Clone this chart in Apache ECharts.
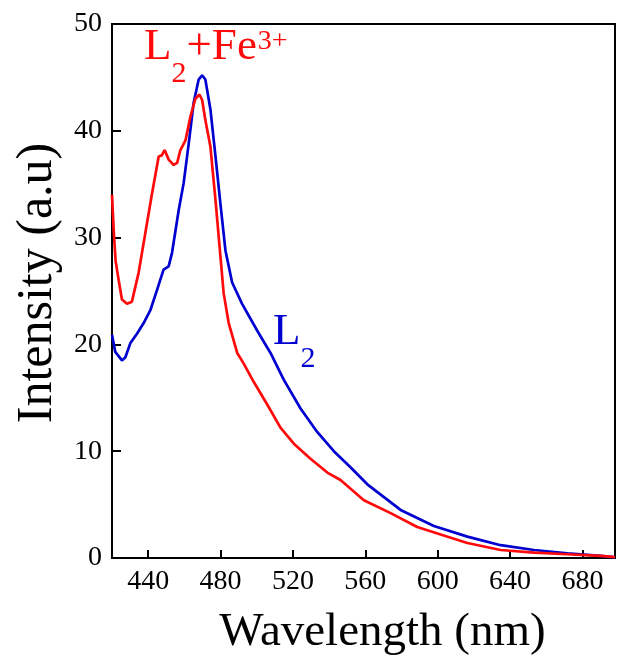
<!DOCTYPE html>
<html>
<head>
<meta charset="utf-8">
<script src="https://cdn.jsdelivr.net/npm/echarts@6/dist/echarts.min.js"></script>
<style>
html,body{margin:0;padding:0;background:#fff;}
#c{width:617px;height:662px;}
</style>
</head>
<body>
<div id="c"></div>
<script>
// L2 + Fe3+ (red)
const redWavelength = [420,421,422,423.7,425.5,428.3,431,434.7,438.4,442.1,445.8,447.5,449.1,451.3,454.1,456,457.8,460.6,463.3,466.1,468.3,469.8,471.6,474.4,477.2,479.9,481.7,484.5,489.2,492.8,498.3,505.7,513.1,520.5,529.7,539,546.3,559.2,574,588.7,601.6,616.4,634.8,653.3,671.7,690.2,698];
const redIntensity  = [34.0,30.5,27.8,26.0,24.2,23.8,24.0,26.7,30.4,34.1,37.6,37.7,38.2,37.3,36.8,37.0,38.2,39.1,41.3,43.0,43.4,42.9,41.0,38.5,33.5,28.3,24.8,22.0,19.2,18.2,16.5,14.4,12.2,10.7,9.3,8.0,7.3,5.4,4.2,2.9,2.2,1.4,0.75,0.5,0.35,0.2,0.08];
// L2 (blue)
const blueWavelength = [420,421.8,425.5,427.4,430.1,433.8,437.5,441.2,444.9,448.5,451.3,453.2,456.9,459.6,462.4,465.1,467.9,469.8,471.6,474.4,477.2,479.9,482.7,486.4,491.9,500.2,507.6,514.9,524.2,533.4,542.6,551.8,561.1,579.5,597.9,616.4,634.8,653.3,671.7,690.2,698];
const blueIntensity  = [20.9,19.3,18.5,18.8,20.1,21.0,22.0,23.2,25.1,27.0,27.3,28.6,32.6,35.1,38.8,42.6,44.8,45.2,44.8,42.0,37.6,33.2,28.8,25.8,23.8,21.3,19.2,16.7,14.0,11.8,10.0,8.5,6.9,4.5,3.0,2.0,1.2,0.75,0.44,0.2,0.06];

const xTicks = [440,480,520,560,600,640,680];
const yTicks = [0,10,20,30,40,50];

const pairs = (xs, ys) => xs.map((x, i) => [x, ys[i]]);
const FONT = '"Liberation Serif", "Times New Roman", serif';

const chart = echarts.init(document.getElementById('c'), null, {renderer: 'canvas'});
chart.setOption({
  animation: false,
  backgroundColor: '#fff',
  grid: {left: 112, right: 2, top: 24, bottom: 104, show: true, borderColor: '#000', borderWidth: 2, containLabel: false},
  xAxis: {
    type: 'value', min: 420, max: 698, interval: 40,
    name: 'Wavelength (nm)', nameLocation: 'middle', nameGap: 51,
    nameTextStyle: {fontFamily: FONT, fontSize: 47, color: '#000', padding: [0,0,0,38]},
    axisLine: {lineStyle: {color: '#000', width: 2}},
    axisTick: {inside: true, length: 8, lineStyle: {color: '#000', width: 2},
      customValues: xTicks},
    axisLabel: {fontFamily: FONT, fontSize: 28, color: '#000', margin: 10,
      customValues: xTicks},
    splitLine: {show: false}
  },
  yAxis: {
    type: 'value', min: 0, max: 50, interval: 10,
    name: 'Intensity (a.u)', nameLocation: 'middle', nameGap: 47, nameRotate: 90,
    nameTextStyle: {fontFamily: FONT, fontSize: 50, color: '#000', padding: [0,0,0,16]},
    axisLine: {lineStyle: {color: '#000', width: 2}},
    axisTick: {inside: true, length: 9, lineStyle: {color: '#000', width: 2},
      customValues: yTicks},
    axisLabel: {fontFamily: FONT, fontSize: 28, color: '#000', margin: 10,
      customValues: yTicks},
    splitLine: {show: false}
  },
  series: [
    {name: 'L2', type: 'line', data: pairs(blueWavelength, blueIntensity), showSymbol: false, symbol: 'none',
     lineStyle: {color: '#0000d0', width: 2.7}, z: 3},
    {name: 'L2+Fe3+', type: 'line', data: pairs(redWavelength, redIntensity), showSymbol: false, symbol: 'none',
     lineStyle: {color: '#ff0a0a', width: 2.7}, z: 4}
  ],
  graphic: [
    {type: 'text', left: 144, top: 25, z: 10,
     style: {text: '{m|L}{s|2}{m|+Fe}{p|3+}', fill: '#ff0a0a',
       rich: {
         m: {fontFamily: FONT, fontSize: 45, lineHeight: 64, verticalAlign: 'top', fill: '#ff0a0a'},
         s: {fontFamily: FONT, fontSize: 30, lineHeight: 30, verticalAlign: 'bottom', fill: '#ff0a0a'},
         p: {fontFamily: FONT, fontSize: 28, lineHeight: 28, verticalAlign: 'top', fill: '#ff0a0a', padding: [3,0,0,1]}
       }}},
    {type: 'text', left: 273, top: 310, z: 10,
     style: {text: '{m|L}{s|2}', fill: '#0000d0',
       rich: {
         m: {fontFamily: FONT, fontSize: 45, lineHeight: 64, verticalAlign: 'top', fill: '#0000d0'},
         s: {fontFamily: FONT, fontSize: 30, lineHeight: 30, verticalAlign: 'bottom', fill: '#0000d0'}
       }}}
  ]
});
</script>
</body>
</html>
